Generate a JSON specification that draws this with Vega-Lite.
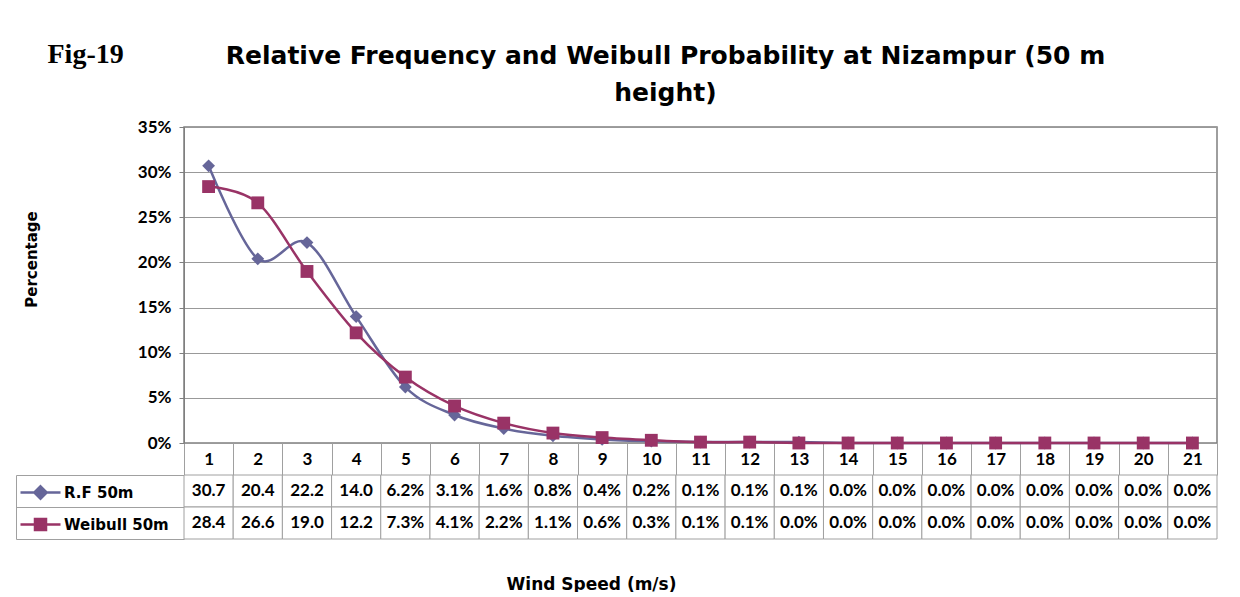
{
  "$schema": "https://vega.github.io/schema/vega-lite/v6.json",
  "background": "white",
  "padding": {"left": 15, "top": 41, "right": 0, "bottom": 0},
  "bounds": "flush",
  "spacing": 32,
  "title": {"text": "Fig-19", "anchor": "start", "font": "Liberation Serif", "fontSize": 28, "fontWeight": "bold", "color": "black", "dx": 32, "dy": 26, "offset": 0},
  "data": {"values": [
    {"ws": 1, "series": "R.F 50m", "v": 0.307}, {"ws": 2, "series": "R.F 50m", "v": 0.204}, {"ws": 3, "series": "R.F 50m", "v": 0.222},
    {"ws": 4, "series": "R.F 50m", "v": 0.140}, {"ws": 5, "series": "R.F 50m", "v": 0.062}, {"ws": 6, "series": "R.F 50m", "v": 0.031},
    {"ws": 7, "series": "R.F 50m", "v": 0.016}, {"ws": 8, "series": "R.F 50m", "v": 0.008}, {"ws": 9, "series": "R.F 50m", "v": 0.004},
    {"ws": 10, "series": "R.F 50m", "v": 0.002}, {"ws": 11, "series": "R.F 50m", "v": 0.001}, {"ws": 12, "series": "R.F 50m", "v": 0.001},
    {"ws": 13, "series": "R.F 50m", "v": 0.001}, {"ws": 14, "series": "R.F 50m", "v": 0.0}, {"ws": 15, "series": "R.F 50m", "v": 0.0},
    {"ws": 16, "series": "R.F 50m", "v": 0.0}, {"ws": 17, "series": "R.F 50m", "v": 0.0}, {"ws": 18, "series": "R.F 50m", "v": 0.0},
    {"ws": 19, "series": "R.F 50m", "v": 0.0}, {"ws": 20, "series": "R.F 50m", "v": 0.0}, {"ws": 21, "series": "R.F 50m", "v": 0.0},
    {"ws": 1, "series": "Weibull 50m", "v": 0.284}, {"ws": 2, "series": "Weibull 50m", "v": 0.266}, {"ws": 3, "series": "Weibull 50m", "v": 0.190},
    {"ws": 4, "series": "Weibull 50m", "v": 0.122}, {"ws": 5, "series": "Weibull 50m", "v": 0.073}, {"ws": 6, "series": "Weibull 50m", "v": 0.041},
    {"ws": 7, "series": "Weibull 50m", "v": 0.022}, {"ws": 8, "series": "Weibull 50m", "v": 0.011}, {"ws": 9, "series": "Weibull 50m", "v": 0.006},
    {"ws": 10, "series": "Weibull 50m", "v": 0.003}, {"ws": 11, "series": "Weibull 50m", "v": 0.001}, {"ws": 12, "series": "Weibull 50m", "v": 0.001},
    {"ws": 13, "series": "Weibull 50m", "v": 0.0}, {"ws": 14, "series": "Weibull 50m", "v": 0.0}, {"ws": 15, "series": "Weibull 50m", "v": 0.0},
    {"ws": 16, "series": "Weibull 50m", "v": 0.0}, {"ws": 17, "series": "Weibull 50m", "v": 0.0}, {"ws": 18, "series": "Weibull 50m", "v": 0.0},
    {"ws": 19, "series": "Weibull 50m", "v": 0.0}, {"ws": 20, "series": "Weibull 50m", "v": 0.0}, {"ws": 21, "series": "Weibull 50m", "v": 0.0}
  ]},
  "vconcat": [
    {
      "width": 1033,
      "height": 316,
      "view": {"stroke": "#7f7f7f", "strokeWidth": 1.5},
      "title": {"text": ["Relative Frequency and Weibull Probability at Nizampur (50 m", "height)"], "anchor": "middle", "dx": -35, "offset": 12, "lineHeight": 37, "font": "DejaVu Sans", "fontSize": 25, "fontWeight": "bold", "color": "black"},
      "encoding": {
        "x": {"field": "ws", "type": "ordinal", "scale": {"type": "band", "paddingInner": 0, "paddingOuter": 0},
          "axis": {"title": null, "labelAngle": 0, "tickBand": "extent", "tickSize": 32, "tickColor": "#a0a0a0", "domain": false,
            "labelFont": "Lato", "labelFontWeight": "bold", "labelFontSize": 17, "labelColor": "black", "labelBaseline": "middle", "labelPadding": -16}},
        "y": {"field": "v", "type": "quantitative", "scale": {"domain": [0, 0.35]},
          "axis": {"values": [0, 0.05, 0.1, 0.15, 0.2, 0.25, 0.3, 0.35], "format": ".0%", "grid": true, "gridColor": "#999999",
            "tickSize": 5, "tickColor": "#7f7f7f", "domainColor": "#7f7f7f", "labelPadding": 8,
            "labelFont": "Lato", "labelFontWeight": "bold", "labelFontSize": 17, "labelColor": "black",
            "title": "Percentage", "titleFont": "DejaVu Sans", "titleFontSize": 15, "titleFontWeight": "bold", "titleColor": "black",
            "titleX": -153, "titleY": 132, "titleAngle": -90, "titleAlign": "center", "titleBaseline": "middle"}},
        "color": {"field": "series", "type": "nominal", "scale": {"domain": ["R.F 50m", "Weibull 50m"], "range": ["#666699", "#993366"]}, "legend": null}
      },
      "layer": [
        {"mark": {"type": "line", "interpolate": "cardinal", "strokeWidth": 2.5}},
        {"mark": {"type": "point", "filled": true, "opacity": 1, "size": 165},
          "encoding": {"shape": {"field": "series", "type": "nominal", "scale": {"domain": ["R.F 50m", "Weibull 50m"], "range": ["diamond", "square"]}, "legend": null}}}
      ]
    },
    {
      "width": 1033,
      "height": 64,
      "view": {"stroke": null},
      "transform": [{"calculate": "datum.v >= 0.1 ? format(datum.v * 100, '.1f') : format(datum.v * 100, '.1f') + '%'", "as": "label"}],
      "encoding": {
        "x": {"field": "ws", "type": "ordinal", "scale": {"type": "band", "paddingInner": 0, "paddingOuter": 0},
          "axis": {"labels": false, "ticks": false, "domain": false, "title": "Wind Speed (m/s)", "titleX": 407, "titleY": 45,
            "titleAlign": "center", "titleBaseline": "middle", "titleFont": "DejaVu Sans", "titleFontSize": 17, "titleFontWeight": "bold", "titleColor": "black"}},
        "y": {"field": "series", "type": "nominal", "scale": {"domain": ["R.F 50m", "Weibull 50m"], "paddingInner": 0, "paddingOuter": 0},
          "axis": {"title": null, "labels": false, "offset": 168, "tickBand": "extent", "tickSize": -168, "tickColor": "#a0a0a0", "domainColor": "#a0a0a0"}}
      },
      "layer": [
        {"mark": {"type": "point", "filled": true, "opacity": 1, "strokeWidth": 2.5},
          "encoding": {
            "shape": {"field": "series", "type": "nominal", "scale": {"domain": ["R.F 50m", "Weibull 50m"], "range": ["M-2,0H2M0,-0.62L0.62,0L0,0.62L-0.62,0Z", "M-2,0H2M-0.55,-0.55H0.55V0.55H-0.55Z"]},
              "legend": {"orient": "none", "legendX": -155, "legendY": 6, "title": null, "symbolSize": 400, "symbolStrokeWidth": 2.5, "symbolOpacity": 1, "padding": 0,
                "labelFont": "DejaVu Sans", "labelFontWeight": "bold", "labelFontSize": 15, "labelColor": "black", "labelOffset": 12, "rowPadding": 9}},
            "color": {"field": "series", "type": "nominal", "scale": {"domain": ["R.F 50m", "Weibull 50m"], "range": ["#666699", "#993366"]},
              "legend": {"orient": "none", "legendX": -155, "legendY": 6, "title": null, "symbolSize": 400, "symbolStrokeWidth": 2.5, "symbolOpacity": 1, "padding": 0,
                "labelFont": "DejaVu Sans", "labelFontWeight": "bold", "labelFontSize": 15, "labelColor": "black", "labelOffset": 12, "rowPadding": 9}},
            "stroke": {"field": "series", "type": "nominal", "scale": {"domain": ["R.F 50m", "Weibull 50m"], "range": ["#666699", "#993366"]},
              "legend": {"orient": "none", "legendX": -155, "legendY": 6, "title": null, "symbolSize": 400, "symbolStrokeWidth": 2.5, "symbolOpacity": 1, "padding": 0,
                "labelFont": "DejaVu Sans", "labelFontWeight": "bold", "labelFontSize": 15, "labelColor": "black", "labelOffset": 12, "rowPadding": 9}}
          }},
        {"mark": {"type": "rect", "fill": "white", "stroke": "#a0a0a0", "strokeWidth": 1}},
        {"mark": {"type": "text", "font": "Lato", "fontWeight": "bold", "fontSize": 17, "color": "black"},
          "encoding": {"text": {"field": "label", "type": "nominal"}}}
      ]
    }
  ],
  "resolve": {
    "scale": {"color": "independent", "shape": "independent", "stroke": "independent", "x": "independent", "y": "independent"},
    "legend": {"color": "independent", "shape": "independent", "stroke": "independent"}
  }
}
